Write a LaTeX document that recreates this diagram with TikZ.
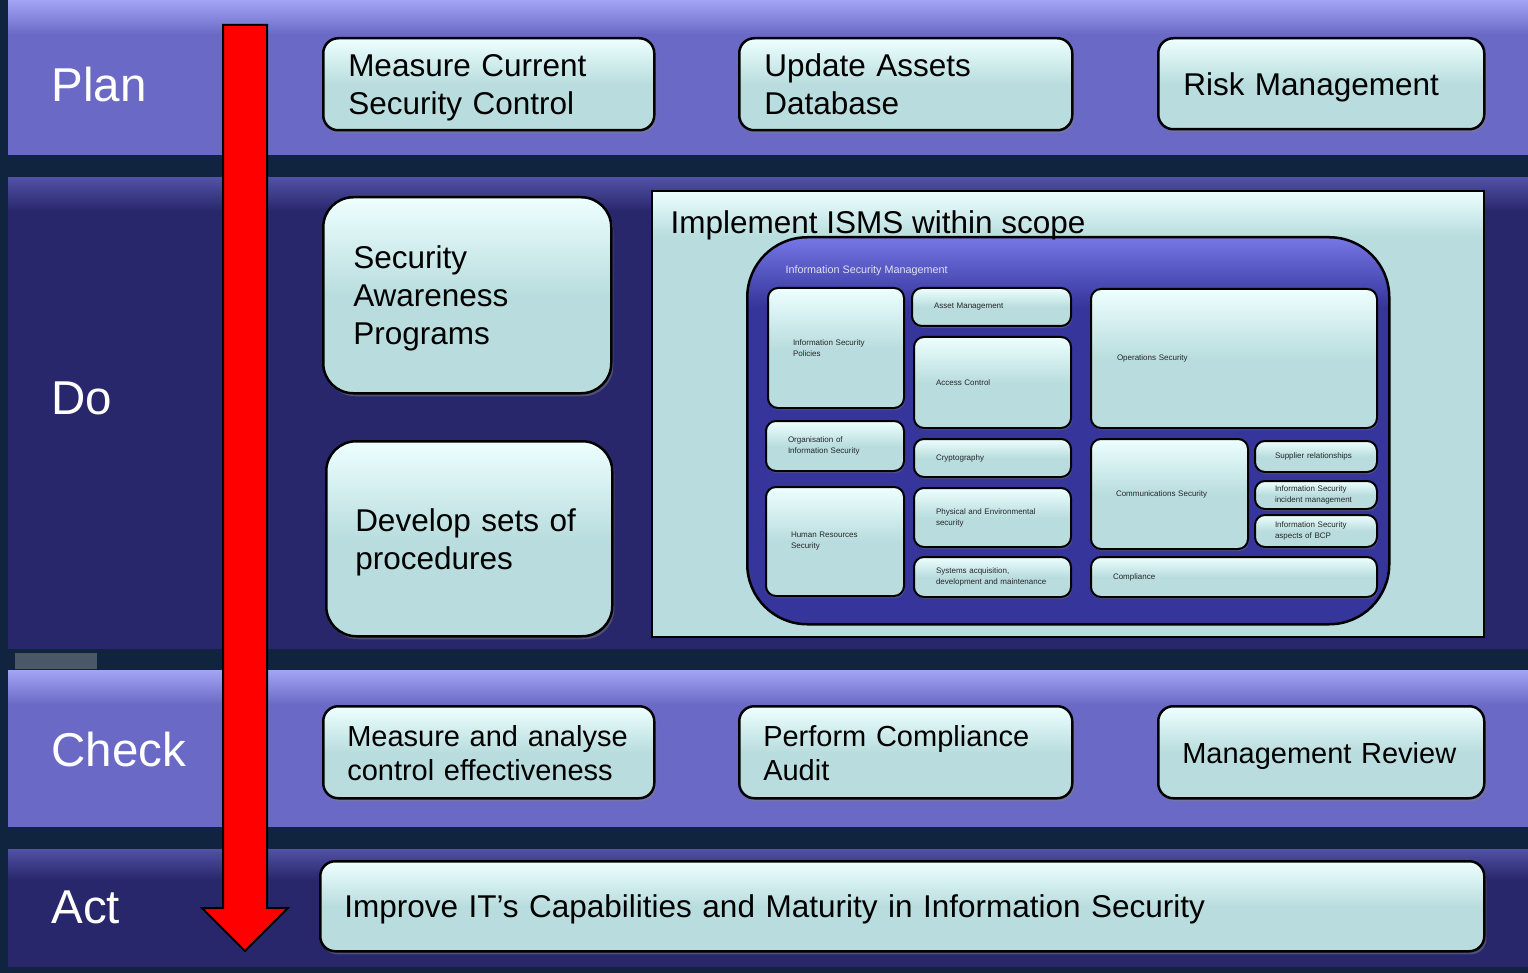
\documentclass[tikz,border=0pt]{standalone}
\usepackage{fontspec}
\setmainfont{Liberation Sans}
\usetikzlibrary{calc,shadows}
\definecolor{Night}{HTML}{10243F}
\definecolor{Slate}{HTML}{4A5767}
\definecolor{Lilac}{HTML}{6A6AC6}
\definecolor{LilacTop}{HTML}{A4A4F6}
\definecolor{Indigo}{HTML}{29276B}
\definecolor{IndigoTop}{HTML}{5151A6}
\definecolor{Royal}{HTML}{35359B}
\definecolor{RoyalTop}{HTML}{7676E6}
\definecolor{Aqua}{HTML}{B9DDDE}
\definecolor{AquaTop}{HTML}{EEFFFF}
% light rim along the top edge only (25bp..75bp covers the shape)
\pgfdeclareverticalshading{planglow}{100bp}{color(0bp)=(Lilac); color(64bp)=(Lilac); color(75bp)=(LilacTop); color(100bp)=(LilacTop)}
\pgfdeclareverticalshading{doglow}{100bp}{color(0bp)=(Indigo); color(71.5bp)=(Indigo); color(75bp)=(IndigoTop); color(100bp)=(IndigoTop)}
\pgfdeclareverticalshading{actglow}{100bp}{color(0bp)=(Indigo); color(62bp)=(Indigo); color(75bp)=(IndigoTop); color(100bp)=(IndigoTop)}
\pgfdeclareverticalshading{scopeglow}{100bp}{color(0bp)=(Aqua); color(70bp)=(Aqua); color(75bp)=(AquaTop); color(100bp)=(AquaTop)}
\pgfdeclareverticalshading{ismglow}{100bp}{color(0bp)=(Royal); color(66bp)=(Royal); color(75bp)=(RoyalTop); color(100bp)=(RoyalTop)}

\begin{document}
\begin{tikzpicture}[x=1pt,y=-1pt,
  boxsize/.code 2 args={\pgfmathsetlengthmacro\boxtw{#1pt-2*\pgfkeysvalueof{/pgf/inner xsep}}%
    \edef\next{\noexpand\pgfkeysalso{minimum width=#1pt,minimum height=#2pt,text width=\boxtw}}\next},
  band/.style={shade,shading=#1,anchor=north west,inner sep=0pt,outer sep=0pt,minimum width=1520pt},
  bevel/.style={draw=black,top color=AquaTop,bottom color=Aqua,middle color=Aqua,
    anchor=north west,align=left,inner ysep=0pt},
  % struts keep the first and last line the same height whatever the letters
  taskbox/.style={bevel,line width=2.5pt,rounded corners=15pt,inner xsep=25pt,
    drop shadow={opacity=.45,shadow xshift=2pt,shadow yshift=-3pt},
    execute at begin node={\rule{0pt}{30pt}},execute at end node={\rule[-7pt]{0pt}{7pt}},
    font=\fontsize{31.5}{38}\selectfont},
  checkbox/.style={taskbox,inner xsep=24pt,
    execute at begin node={\rule{0pt}{22pt}},execute at end node={\rule[-6.5pt]{0pt}{6.5pt}},
    font=\fontsize{29}{34}\selectfont},
  ismsitem/.style={bevel,line width=2pt,rounded corners=10pt,inner xsep=22pt,
    drop shadow={opacity=.4,shadow xshift=1pt,shadow yshift=-2pt},
    text=black!85,font=\fontsize{8}{11}\selectfont},
  phaselabel/.style={anchor=west,text=white,font=\fontsize{47.5}{52}\selectfont}]

  % backdrop and the four phase bands
  \fill[Night] (0,0) rectangle (1528,973);
  \useasboundingbox (0,0) rectangle (1528,973);
  \fill[Slate] (15,653) rectangle (97,669);
  \node[band=planglow,minimum height=155pt] (planband) at (8,0) {};
  \node[band=doglow,minimum height=470pt] (doband) at (8,178) {};
  \node[band=planglow,minimum height=156pt] (checkband) at (8,670) {};
  \node[band=actglow,minimum height=117pt] (actband) at (8,849) {};

  \node[phaselabel] (plan) at (48,85) {Plan};
  \node[phaselabel] (do) at (48,398) {Do};
  \node[phaselabel] (check) at (48,750) {Check};
  \node[phaselabel] (act) at (48,907) {Act};

  % downward flow arrow
  \coordinate (flowtop) at (245,25);
  \coordinate (flowtip) at (245,951);
  \draw[line width=2pt,fill=red,line join=miter] ($(flowtop)+(-22,0)$) -- ($(flowtop)+(22,0)$)
    -- ($(flowtip)+(22,-43)$) -- ($(flowtip)+(43,-43)$) -- (flowtip)
    -- ($(flowtip)+(-43,-43)$) -- ($(flowtip)+(-22,-43)$) -- cycle;

  % plan
  \node[taskbox,boxsize={331}{92}] (measure) at (322,37) {Measure Current\\Security Control};
  \node[taskbox,boxsize={333}{92}] (assets) at (738,37) {Update Assets\\Database};
  \node[taskbox,boxsize={326}{91}] (risk) at (1157,37) {Risk Management};

  % do
  \node[taskbox,rounded corners=30pt,inner xsep=30pt,boxsize={288}{196}] (awareness) at (322,196)
    {Security\\Awareness\\Programs};
  \node[taskbox,rounded corners=30pt,inner xsep=29pt,boxsize={286}{195}] (procedures) at (325,440)
    {Develop sets of\\procedures};
  \node[draw=black,line width=2pt,shade,shading=scopeglow,anchor=north west,inner sep=0pt,
    minimum width=832pt,minimum height=446pt] (isms) at (651,190) {};
  \node[draw=black,line width=2.5pt,rounded corners=60pt,shade,shading=ismglow,
    anchor=north west,inner sep=0pt,minimum width=642pt,minimum height=387pt] (ism) at (746,236) {};
  \node[anchor=west,text=white!85!Royal,font=\fontsize{10.8}{13}\selectfont] (ismlabel) at (782,271)
    {Information Security Management};

  \node[ismsitem,inner xsep=25pt,boxsize={136}{120}] (policies) at (767,287) {Information Security\\Policies};
  \node[ismsitem,boxsize={159}{38}] (asset) at (911,287) {Asset Management};
  \node[ismsitem,boxsize={157}{91}] (access) at (913,336) {Access Control};
  \node[ismsitem,inner xsep=26pt,boxsize={286}{139}] (operations) at (1090,288) {Operations Security};
  \node[ismsitem,boxsize={138}{50}] (organisation) at (765,420) {Organisation of\\Information Security};
  \node[ismsitem,boxsize={157}{38}] (crypto) at (913,438) {Cryptography};
  \node[ismsitem,inner xsep=25pt,boxsize={157}{110}] (comms) at (1090,438) {Communications Security};
  \node[ismsitem,inner xsep=20pt,boxsize={122}{31}] (supplier) at (1254,440) {Supplier relationships};
  \node[ismsitem,inner xsep=20pt,boxsize={122}{28}] (incident) at (1254,480)
    {Information Security\\incident management};
  \node[ismsitem,inner xsep=20pt,boxsize={122}{32}] (bcp) at (1254,514) {Information Security\\aspects of BCP};
  \node[ismsitem,inner xsep=25pt,boxsize={138}{109}] (hr) at (765,486) {Human Resources\\Security};
  \node[ismsitem,boxsize={157}{59}] (physical) at (913,487) {Physical and Environmental\\security};
  \node[ismsitem,boxsize={157}{40}] (systems) at (913,556) {Systems acquisition,\\development and maintenance};
  \node[ismsitem,boxsize={286}{40}] (compliance) at (1090,556) {Compliance};

  \node[anchor=west,font=\fontsize{31.5}{38}\selectfont] (ismstitle) at (667,225) {Implement ISMS within scope};

  % check
  \node[checkbox,boxsize={331}{92}] (analyse) at (322,705) {Measure and analyse\\control effectiveness};
  \node[checkbox,boxsize={333}{92}] (audit) at (738,705) {Perform Compliance\\Audit};
  \node[checkbox,boxsize={326}{92}] (review) at (1157,705) {Management Review};

  % act
  \node[taskbox,inner xsep=24pt,boxsize={1164}{90}] (improve) at (319,860)
    {Improve IT’s Capabilities and Maturity in Information Security};
\end{tikzpicture}
\end{document}
